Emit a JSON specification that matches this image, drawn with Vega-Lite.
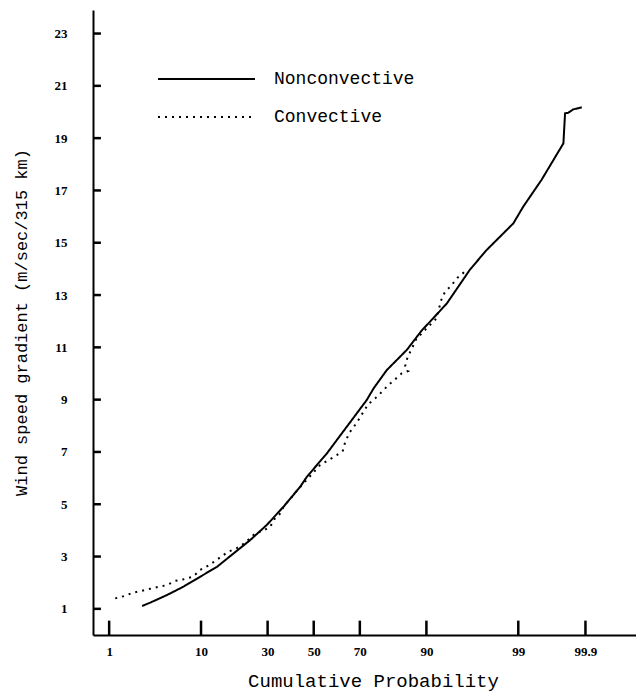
{
  "$schema": "https://vega.github.io/schema/vega-lite/v6.json",
  "autosize": "none",
  "width": 543,
  "height": 625,
  "padding": {"left": 93, "top": 10, "right": 0, "bottom": 60},
  "background": "white",
  "config": {"view": {"stroke": null}, "font": "Liberation Mono"},
  "datasets": {
    "xticks": [{"p": 1}, {"p": 10}, {"p": 30}, {"p": 50}, {"p": 70}, {"p": 90}, {"p": 99}, {"p": 99.9}],
    "yticks": [{"v": 1}, {"v": 3}, {"v": 5}, {"v": 7}, {"v": 9}, {"v": 11}, {"v": 13}, {"v": 15}, {"v": 17}, {"v": 19}, {"v": 21}, {"v": 23}],
    "curves": [
      {"series": "Nonconvective", "p": 2.55, "v": 1.11},
      {"series": "Nonconvective", "p": 3.16, "v": 1.24},
      {"series": "Nonconvective", "p": 4.77, "v": 1.53},
      {"series": "Nonconvective", "p": 6.94, "v": 1.85},
      {"series": "Nonconvective", "p": 9.85, "v": 2.23},
      {"series": "Nonconvective", "p": 13.6, "v": 2.61},
      {"series": "Nonconvective", "p": 18.1, "v": 3.12},
      {"series": "Nonconvective", "p": 23.5, "v": 3.63},
      {"series": "Nonconvective", "p": 29.7, "v": 4.21},
      {"series": "Nonconvective", "p": 36.6, "v": 4.91},
      {"series": "Nonconvective", "p": 43.9, "v": 5.67},
      {"series": "Nonconvective", "p": 46.9, "v": 6.05},
      {"series": "Nonconvective", "p": 56.0, "v": 6.95},
      {"series": "Nonconvective", "p": 64.7, "v": 7.97},
      {"series": "Nonconvective", "p": 72.7, "v": 8.99},
      {"series": "Nonconvective", "p": 75.2, "v": 9.43},
      {"series": "Nonconvective", "p": 79.7, "v": 10.13},
      {"series": "Nonconvective", "p": 85.5, "v": 10.9},
      {"series": "Nonconvective", "p": 89.1, "v": 11.66},
      {"series": "Nonconvective", "p": 90.7, "v": 11.98},
      {"series": "Nonconvective", "p": 93.5, "v": 12.68},
      {"series": "Nonconvective", "p": 96.2, "v": 13.96},
      {"series": "Nonconvective", "p": 97.5, "v": 14.7},
      {"series": "Nonconvective", "p": 98.84, "v": 15.74},
      {"series": "Nonconvective", "p": 99.14, "v": 16.38},
      {"series": "Nonconvective", "p": 99.52, "v": 17.4},
      {"series": "Nonconvective", "p": 99.774, "v": 18.8},
      {"series": "Nonconvective", "p": 99.787, "v": 19.95},
      {"series": "Nonconvective", "p": 99.81, "v": 19.97},
      {"series": "Nonconvective", "p": 99.842, "v": 20.1},
      {"series": "Nonconvective", "p": 99.885, "v": 20.18},
      {"series": "Convective", "p": 1.2, "v": 1.4},
      {"series": "Convective", "p": 1.56, "v": 1.49},
      {"series": "Convective", "p": 2.0, "v": 1.62},
      {"series": "Convective", "p": 2.55, "v": 1.69},
      {"series": "Convective", "p": 3.16, "v": 1.77},
      {"series": "Convective", "p": 3.89, "v": 1.84},
      {"series": "Convective", "p": 4.77, "v": 1.91},
      {"series": "Convective", "p": 5.78, "v": 2.07},
      {"series": "Convective", "p": 6.94, "v": 2.13},
      {"series": "Convective", "p": 8.49, "v": 2.23},
      {"series": "Convective", "p": 9.85, "v": 2.49},
      {"series": "Convective", "p": 11.4, "v": 2.64},
      {"series": "Convective", "p": 13.2, "v": 2.84},
      {"series": "Convective", "p": 14.85, "v": 3.02},
      {"series": "Convective", "p": 16.65, "v": 3.19},
      {"series": "Convective", "p": 19.1, "v": 3.32},
      {"series": "Convective", "p": 21.8, "v": 3.53},
      {"series": "Convective", "p": 25.3, "v": 3.89},
      {"series": "Convective", "p": 28.4, "v": 3.99},
      {"series": "Convective", "p": 31.1, "v": 4.14},
      {"series": "Convective", "p": 32.4, "v": 4.4},
      {"series": "Convective", "p": 35.2, "v": 4.65},
      {"series": "Convective", "p": 36.6, "v": 4.91},
      {"series": "Convective", "p": 43.9, "v": 5.66},
      {"series": "Convective", "p": 48.4, "v": 6.08},
      {"series": "Convective", "p": 52.9, "v": 6.5},
      {"series": "Convective", "p": 56.7, "v": 6.69},
      {"series": "Convective", "p": 60.1, "v": 6.86},
      {"series": "Convective", "p": 63.0, "v": 7.05},
      {"series": "Convective", "p": 64.0, "v": 7.39},
      {"series": "Convective", "p": 65.8, "v": 7.74},
      {"series": "Convective", "p": 68.1, "v": 8.03},
      {"series": "Convective", "p": 69.9, "v": 8.29},
      {"series": "Convective", "p": 71.8, "v": 8.6},
      {"series": "Convective", "p": 73.3, "v": 8.83},
      {"series": "Convective", "p": 75.8, "v": 9.05},
      {"series": "Convective", "p": 78.1, "v": 9.3},
      {"series": "Convective", "p": 80.2, "v": 9.56},
      {"series": "Convective", "p": 82.3, "v": 9.78},
      {"series": "Convective", "p": 84.2, "v": 10.01},
      {"series": "Convective", "p": 85.9, "v": 10.1},
      {"series": "Convective", "p": 85.1, "v": 10.29},
      {"series": "Convective", "p": 85.7, "v": 10.62},
      {"series": "Convective", "p": 86.8, "v": 10.96},
      {"series": "Convective", "p": 87.8, "v": 11.31},
      {"series": "Convective", "p": 89.7, "v": 11.66},
      {"series": "Convective", "p": 91.9, "v": 12.11},
      {"series": "Convective", "p": 92.6, "v": 12.78},
      {"series": "Convective", "p": 93.2, "v": 13.11},
      {"series": "Convective", "p": 94.1, "v": 13.36},
      {"series": "Convective", "p": 94.9, "v": 13.66},
      {"series": "Convective", "p": 95.7, "v": 13.89}
    ]
  },
  "layer": [
    {
      "mark": {"type": "rule", "color": "black", "strokeWidth": 2},
      "encoding": {"y": {"datum": 23.9, "type": "quantitative"}}
    },
    {
      "data": {"name": "curves"},
      "transform": [{"calculate": "quantileNormal(datum.p / 100)", "as": "z"}],
      "mark": {"type": "line", "color": "black", "strokeWidth": 2, "clip": true},
      "encoding": {
        "x": {
          "field": "z",
          "type": "quantitative",
          "scale": {"domain": [-2.51, 3.665], "nice": false, "zero": false},
          "axis": {
            "values": [-2.326348, -1.281552, -0.524401, 0, 0.524401, 1.281552, 2.326348, 3.090232],
            "labelExpr": "round(cumulativeNormal(datum.value) * 1000) / 10",
            "grid": false,
            "domainColor": "black",
            "domainWidth": 2,
            "ticks": false,
            "labelFont": "Liberation Serif",
            "labelFontWeight": "bold",
            "labelFontSize": 13,
            "labelColor": "black",
            "labelPadding": 10,
            "labelFlush": false,
            "title": "Cumulative Probability",
            "titleFont": "Liberation Mono",
            "titleFontSize": 19,
            "titleFontWeight": "normal",
            "titleColor": "black",
            "titleX": 280,
            "titleY": 45,
            "titleBaseline": "middle"
          }
        },
        "y": {
          "field": "v",
          "type": "quantitative",
          "scale": {"domain": [0, 23.9], "nice": false, "zero": false},
          "axis": {
            "values": [1, 3, 5, 7, 9, 11, 13, 15, 17, 19, 21, 23],
            "grid": false,
            "domainColor": "black",
            "domainWidth": 2,
            "ticks": false,
            "labelFont": "Liberation Serif",
            "labelFontWeight": "bold",
            "labelFontSize": 13,
            "labelColor": "black",
            "labelPadding": 26,
            "title": "Wind speed gradient (m/sec/315 km)",
            "titleFont": "Liberation Mono",
            "titleFontSize": 17,
            "titleFontWeight": "normal",
            "titleColor": "black",
            "titleX": -71.5,
            "titleY": 312,
            "titleAlign": "center",
            "titleBaseline": "middle"
          }
        },
        "strokeDash": {
          "field": "series",
          "type": "nominal",
          "scale": {"domain": ["Nonconvective", "Convective"], "range": [[1, 0], [2, 5]]},
          "legend": {
            "orient": "none",
            "legendX": 64,
            "legendY": 54,
            "title": null,
            "padding": 0,
            "symbolType": "stroke",
            "symbolSize": 9409,
            "symbolStrokeColor": "black",
            "symbolStrokeWidth": 2,
            "clipHeight": 30,
            "rowPadding": 8,
            "labelOffset": 18,
            "labelFont": "Liberation Mono",
            "labelFontSize": 18,
            "labelColor": "black",
            "labelLimit": 0
          }
        },
        "order": {"value": null}
      }
    },
    {
      "data": {"name": "xticks"},
      "transform": [{"calculate": "quantileNormal(datum.p / 100)", "as": "z"}],
      "mark": {"type": "rule", "color": "black", "strokeWidth": 2.5},
      "encoding": {
        "x": {"field": "z", "type": "quantitative"},
        "y": {"datum": 0, "type": "quantitative"},
        "y2": {"datum": 0.55}
      }
    },
    {
      "data": {"name": "yticks"},
      "mark": {"type": "rule", "color": "black", "strokeWidth": 2.5},
      "encoding": {
        "y": {"field": "v", "type": "quantitative"},
        "x": {"datum": -2.51, "type": "quantitative"},
        "x2": {"datum": -2.42}
      }
    }
  ]
}
